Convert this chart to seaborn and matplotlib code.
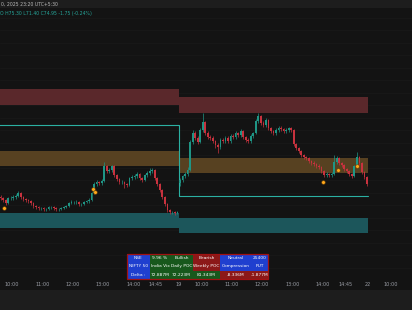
import numpy as np
import pandas as pd
import matplotlib
matplotlib.use("Agg")
import matplotlib.pyplot as plt
from matplotlib.patches import Rectangle
import seaborn as sns

# ---------------- data ----------------
# 5-minute candles; time axis = session minutes (day1 09:15 = 0, day2 09:15 = 375)
day1_first_minute = 20
day2_first_minute = 375
candle_minutes = 5

day1_open = [25366, 25364, 25360, 25354, 25364, 25364, 25366, 25368, 25374, 25366,
             25362, 25360, 25358, 25354, 25348, 25346, 25344, 25344, 25342, 25342,
             25346, 25346, 25344, 25342, 25342, 25344, 25346, 25348, 25354, 25356,
             25356, 25356, 25352, 25352, 25356, 25358, 25360, 25374, 25392, 25396,
             25394, 25398, 25428, 25418, 25420, 25428, 25410, 25402, 25396, 25396,
             25392, 25390, 25404, 25406, 25408, 25412, 25404, 25400, 25410, 25414,
             25418, 25420, 25404, 25392, 25380, 25366, 25352, 25340, 25336, 25336,
             25334]
day1_close = [25364, 25360, 25354, 25364, 25364, 25366, 25368, 25374, 25366, 25362,
              25360, 25358, 25354, 25348, 25346, 25344, 25344, 25342, 25342, 25346,
              25346, 25344, 25342, 25342, 25344, 25346, 25348, 25354, 25356, 25356,
              25356, 25352, 25352, 25356, 25358, 25360, 25374, 25392, 25396, 25394,
              25398, 25428, 25418, 25420, 25428, 25410, 25402, 25396, 25396, 25392,
              25390, 25404, 25406, 25408, 25412, 25404, 25400, 25410, 25414, 25418,
              25420, 25404, 25392, 25380, 25366, 25352, 25340, 25336, 25336, 25334,
              25336]
day1_high = [25370, 25366, 25362, 25367, 25368, 25370, 25372, 25378, 25376, 25368,
             25365, 25362, 25360, 25356, 25350, 25348, 25347, 25346, 25345, 25349,
             25349, 25348, 25346, 25345, 25347, 25349, 25351, 25357, 25360, 25359,
             25360, 25358, 25355, 25359, 25361, 25364, 25377, 25396, 25400, 25399,
             25402, 25436, 25430, 25424, 25430, 25430, 25412, 25404, 25400, 25398,
             25394, 25407, 25410, 25412, 25416, 25414, 25406, 25413, 25418, 25424,
             25424, 25422, 25406, 25394, 25382, 25368, 25354, 25342, 25339, 25338,
             25339]
day1_low = [25360, 25356, 25350, 25352, 25360, 25361, 25363, 25366, 25363, 25359,
            25357, 25355, 25351, 25345, 25343, 25341, 25341, 25339, 25339, 25340,
            25343, 25341, 25339, 25339, 25340, 25342, 25344, 25346, 25352, 25352,
            25353, 25349, 25348, 25350, 25354, 25355, 25358, 25372, 25389, 25390,
            25391, 25396, 25414, 25415, 25417, 25406, 25398, 25392, 25392, 25384,
            25386, 25388, 25401, 25403, 25405, 25400, 25397, 25398, 25407, 25411,
            25414, 25400, 25388, 25376, 25362, 25348, 25336, 25332, 25332, 25331,
            25332]

day2_open = [25394, 25400, 25408, 25412, 25420, 25476, 25494, 25484, 25476, 25500,
             25516, 25494, 25486, 25484, 25478, 25470, 25466, 25480, 25478, 25484,
             25478, 25488, 25486, 25494, 25490, 25498, 25486, 25480, 25478, 25488,
             25494, 25518, 25528, 25514, 25510, 25520, 25504, 25498, 25494, 25500,
             25504, 25502, 25498, 25500, 25504, 25500, 25472, 25464, 25458, 25450,
             25446, 25444, 25438, 25434, 25432, 25428, 25426, 25418, 25410, 25412,
             25410, 25412, 25436, 25444, 25434, 25430, 25422, 25418, 25412, 25408,
             25428, 25446, 25434, 25416, 25406]
day2_close = [25400, 25408, 25412, 25420, 25476, 25494, 25484, 25476, 25500, 25516,
              25494, 25486, 25484, 25478, 25470, 25466, 25480, 25478, 25484, 25478,
              25488, 25486, 25494, 25490, 25498, 25486, 25480, 25478, 25488, 25494,
              25518, 25528, 25514, 25510, 25520, 25504, 25498, 25494, 25500, 25504,
              25502, 25498, 25500, 25504, 25500, 25472, 25464, 25458, 25450, 25446,
              25444, 25438, 25434, 25432, 25428, 25426, 25418, 25410, 25412, 25410,
              25412, 25436, 25444, 25434, 25430, 25422, 25418, 25412, 25408, 25428,
              25446, 25434, 25416, 25406, 25392]
day2_high = [25404, 25411, 25416, 25426, 25480, 25500, 25498, 25488, 25504, 25534,
             25518, 25498, 25490, 25488, 25480, 25474, 25484, 25484, 25488, 25488,
             25492, 25492, 25498, 25497, 25502, 25500, 25488, 25484, 25492, 25497,
             25522, 25534, 25530, 25518, 25524, 25522, 25506, 25500, 25504, 25508,
             25508, 25505, 25504, 25507, 25506, 25502, 25474, 25466, 25460, 25453,
             25449, 25446, 25441, 25438, 25435, 25432, 25428, 25420, 25416, 25415,
             25416, 25450, 25448, 25446, 25437, 25432, 25425, 25420, 25415, 25431,
             25456, 25448, 25436, 25418, 25408]
day2_low = [25388, 25397, 25404, 25409, 25418, 25472, 25480, 25472, 25474, 25496,
            25490, 25482, 25480, 25474, 25464, 25454, 25462, 25474, 25474, 25474,
            25475, 25482, 25483, 25486, 25487, 25482, 25476, 25474, 25475, 25485,
            25492, 25514, 25510, 25506, 25507, 25500, 25494, 25490, 25491, 25497,
            25498, 25495, 25495, 25497, 25496, 25468, 25460, 25454, 25446, 25442,
            25440, 25434, 25430, 25428, 25424, 25422, 25414, 25406, 25407, 25406,
            25407, 25410, 25432, 25430, 25426, 25418, 25414, 25408, 25404, 25406,
            25426, 25430, 25412, 25402, 25388]

# zones per session: [day1, day2]
zone_start = [0, 375]
zone_end = [375, 750]
supply_top = [25582, 25566]
supply_bottom = [25550, 25534]
mid_top = [25458, 25444]
mid_bottom = [25428, 25414]
demand_top = [25334, 25324]
demand_bottom = [25304, 25294]
level_line = [25510, 25368]

# signal dots (minute, price)
dot_minute = [29, 205, 209, 660, 690, 728]
dot_price = [25344, 25382, 25376, 25396, 25420, 25428]

# x-axis ticks
tick_minute = [45, 105, 165, 225, 285, 330, 375, 420, 480, 540, 600, 660, 705, 750, 795]
tick_label = ["10:00", "11:00", "12:00", "13:00", "14:00", "14:45", "19",
              "10:00", "11:00", "12:00", "13:00", "14:00", "14:45", "22", "10:00"]

# info table
table_text = [
    ["NSE", "9.96 %", "Bullish", "Bearish", "Neutral", "25400"],
    ["NIFTY 50", "India Vix", "Daily POC", "Weekly POC", "Compression", "PUT"],
    ["Delta :", "72.887M", "72.223M", "81.343M", "-8.336M", "-1.877M"],
]
table_color = [
    ["blue", "green", "green", "red", "blue", "blue"],
    ["blue", "green", "green", "red", "blue", "blue"],
    ["blue", "green", "green", "green", "red", "red"],
]
header_date = "0, 2025 23:20 UTC+5:30"
header_ohlc = "O H75.30 L71.40 C74.95 -1.75 (-0.24%)"

# ---------------- build frame ----------------
def session(first, o, h, l, c):
    n = len(o)
    return pd.DataFrame({"t": [first + candle_minutes * i + candle_minutes / 2 for i in range(n)],
                         "open": o, "high": h, "low": l, "close": c})

df = pd.concat([session(day1_first_minute, day1_open, day1_high, day1_low, day1_close),
                session(day2_first_minute, day2_open, day2_high, day2_low, day2_close)],
               ignore_index=True)
UP, DOWN = "#1f9585", "#c8323e"
df["color"] = np.where(df["close"] >= df["open"], UP, DOWN)

# ---------------- figure ----------------
sns.set_theme(style="dark")
plt.rcParams["font.family"] = ["DejaVu Sans"]
BG = "#131313"
fig = plt.figure(figsize=(4.12, 3.10), dpi=100, facecolor=BG)
ax = fig.add_axes([0, 30 / 310, 1, 272 / 310])
ax.set_facecolor(BG)
ax.set_xlim(21.25, 836.6)
ax.set_ylim(25200, 25744)

# zones
for i in range(2):
    xs = [max(zone_start[i], 21.25), zone_end[i]]
    ax.fill_between(xs, supply_bottom[i], supply_top[i], color="#5a282b", lw=0, zorder=1)
    ax.fill_between(xs, mid_bottom[i], mid_top[i], color="#574121", lw=0, zorder=1)
    ax.fill_between(xs, demand_bottom[i], demand_top[i], color="#1c565b", lw=0, zorder=1)

# level step line
ax.plot([zone_start[0], zone_end[0], zone_start[1], zone_end[1]],
        [level_line[0], level_line[0], level_line[1], level_line[1]],
        color="#2bb0a2", lw=0.8, zorder=2)

# candles
ax.vlines(df["t"], df["low"], df["high"], colors=df["color"], lw=0.5, zorder=3)
body_bottom = np.minimum(df["open"], df["close"])
body_height = np.maximum(np.abs(df["close"] - df["open"]), 0.8)
ax.bar(df["t"], body_height, bottom=body_bottom, width=3.4, color=df["color"],
       linewidth=0, zorder=4)

# dots
sns.scatterplot(x=dot_minute, y=dot_price, ax=ax, color="#ffa61a", s=7,
                edgecolor="#5c3b00", linewidth=0.3, zorder=5, legend=False)

# axes styling
ax.set_xticks(tick_minute)
ax.set_xticklabels(tick_label)
ax.tick_params(axis="x", labelsize=3.6, colors="#9a9da5", length=0, pad=1.8)
ax.set_yticks(np.arange(25200, 25750, 25))
ax.tick_params(axis="y", left=False, labelleft=False)
ax.grid(axis="y", color="#191919", lw=0.5)
ax.grid(axis="x", visible=False)
for s in ax.spines.values():
    s.set_visible(False)

# overlay in pixel coordinates
ov = fig.add_axes([0, 0, 1, 1], zorder=10)
ov.set_xlim(0, 412)
ov.set_ylim(310, 0)
ov.axis("off")
ov.patch.set_alpha(0)
ov.add_patch(Rectangle((0, 0), 412, 8, color="#1d1d1d", lw=0))
ov.add_patch(Rectangle((0, 290), 412, 20, color="#1d1d1d", lw=0))
ov.text(1, 4, header_date, fontsize=3.3, color="#b8b8b8", va="center", ha="left")
ov.text(0, 13.5, header_ohlc, fontsize=3.3, color="#26a69a", va="center", ha="left")

cell_colors = {"blue": "#1f3fcf", "green": "#17581c", "red": "#8c1818"}
col_edges = [127, 150, 170, 193, 220, 251, 268]
row_top, row_h = 254, 8.3
for r, row in enumerate(table_text):
    for c, txt in enumerate(row):
        x0, x1 = col_edges[c], col_edges[c + 1]
        y0 = row_top + r * row_h
        ov.add_patch(Rectangle((x0, y0), x1 - x0, row_h,
                               color=cell_colors[table_color[r][c]], lw=0))
        ov.text((x0 + x1) / 2, y0 + row_h / 2, txt, fontsize=3.2, color="white",
                ha="center", va="center")
ov.add_patch(Rectangle((col_edges[0], row_top), col_edges[-1] - col_edges[0], 3 * row_h,
                       fill=False, edgecolor="#a01212", lw=0.9))

fig.savefig("out.png", dpi=100, facecolor=BG)
